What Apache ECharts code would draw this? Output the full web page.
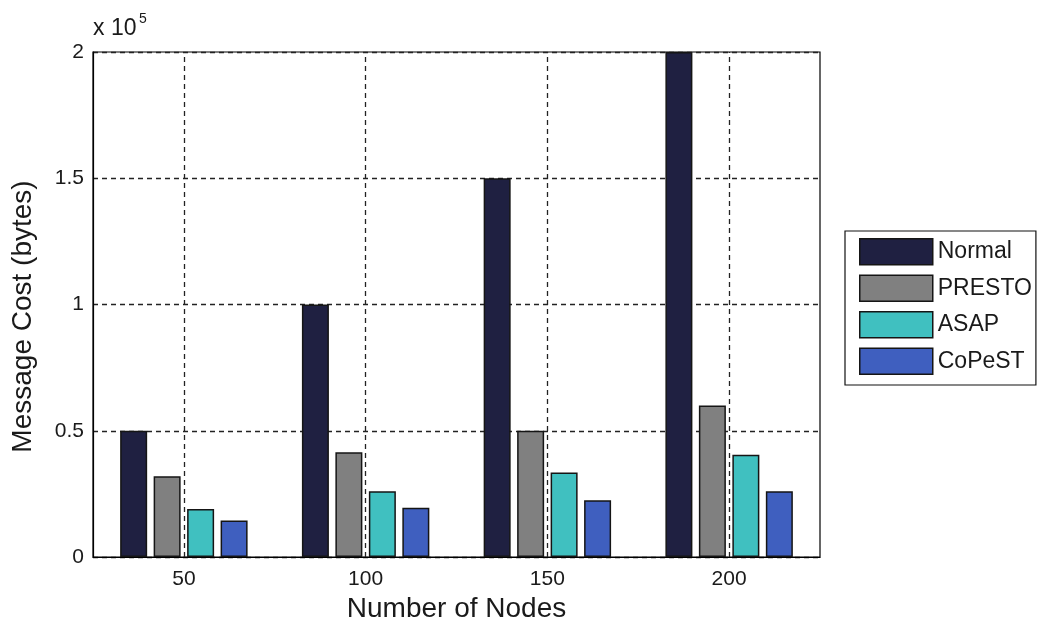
<!DOCTYPE html>
<html>
<head>
<meta charset="utf-8">
<script src="https://cdn.jsdelivr.net/npm/echarts@6/dist/echarts.min.js"></script>
<style>
  html, body { margin: 0; padding: 0; background: #fff; }
  #chart { width: 1039px; height: 628px; }
</style>
</head>
<body>
<div id="chart"></div>
<script>
// Message cost per scheme for each network size
const nodeCounts = ['50', '100', '150', '200'];
const normalCost = [50000, 100000, 150000, 200000];
const prestoCost = [32000, 41500, 50000, 60000];
const asapCost = [19000, 26000, 33500, 40500];
const copestCost = [14500, 19500, 22500, 26000];
const yTicks = [0, 50000, 100000, 150000, 200000];

const font = '"Liberation Sans", Arial, sans-serif';
const ink = '#1a1a1a';
const gridLine = { color: '#222', type: [5, 4], width: 1.3 };

function barSeries(name, data, color) {
  return {
    name: name,
    type: 'bar',
    data: data,
    barWidth: 27,
    barGap: '24%',
    z: 3,
    itemStyle: { color: color, borderColor: '#151515', borderWidth: 1.5 }
  };
}

const series = [
  barSeries('Normal', normalCost, '#1f2041'),
  barSeries('PRESTO', prestoCost, '#808080'),
  barSeries('ASAP', asapCost, '#40c0c0'),
  barSeries('CoPeST', copestCost, '#3f5fbf'),
  // carrier for the dashed vertical grid lines at each category centre
  {
    name: 'vgrid',
    type: 'line',
    data: [],
    showSymbol: false,
    silent: true,
    z: 1,
    markLine: {
      silent: true,
      symbol: ['none', 'none'],
      label: { show: false },
      lineStyle: gridLine,
      data: nodeCounts.map(c => ({ xAxis: c }))
    }
  }
];

const chart = echarts.init(document.getElementById('chart'), null, { renderer: 'canvas' });
chart.setOption({
  animation: false,
  backgroundColor: '#fff',
  textStyle: { fontFamily: font },
  grid: {
    left: 93, right: 219, top: 52, bottom: 71,
    show: true, borderColor: '#000', borderWidth: 1.2, backgroundColor: '#fff'
  },
  legend: {
    orient: 'vertical',
    left: 845, top: 231,
    icon: 'rect',
    itemWidth: 73, itemHeight: 26, itemGap: 9,
    padding: [7, 4, 10, 14],
    borderColor: '#111', borderWidth: 1.2, backgroundColor: '#fff',
    itemStyle: { borderColor: '#151515', borderWidth: 1.5 },
    textStyle: { fontFamily: font, fontSize: 23, color: ink },
    data: ['Normal', 'PRESTO', 'ASAP', 'CoPeST']
  },
  xAxis: {
    type: 'category',
    data: nodeCounts,
    name: 'Number of Nodes',
    nameLocation: 'middle',
    nameGap: 36,
    nameTextStyle: { fontFamily: font, fontSize: 28, color: ink },
    axisLine: { show: true, lineStyle: { color: '#000', width: 1.2 } },
    axisTick: { show: false },
    axisLabel: { fontFamily: font, fontSize: 21, color: ink, margin: 12 },
    splitLine: { show: false }
  },
  yAxis: {
    type: 'value',
    min: yTicks[0],
    max: yTicks[yTicks.length - 1],
    interval: yTicks[1] - yTicks[0],
    name: 'Message Cost (bytes)',
    nameLocation: 'middle',
    nameGap: 56,
    nameTextStyle: { fontFamily: font, fontSize: 28, color: ink, padding: [0, 24, 0, 0] },
    axisLine: { show: true, lineStyle: { color: '#000', width: 1.2 } },
    axisTick: { show: false },
    axisLabel: {
      fontFamily: font, fontSize: 21, color: ink, margin: 9,
      formatter: v => String(v / 100000)
    },
    splitLine: { show: true, lineStyle: gridLine }
  },
  graphic: [
    { type: 'text', left: 93, top: 17, style: { text: 'x 10', font: '23px ' + font, fill: ink } },
    { type: 'text', left: 139, top: 12, style: { text: '5', font: '14px ' + font, fill: ink } }
  ],
  series: series
});
</script>
</body>
</html>
